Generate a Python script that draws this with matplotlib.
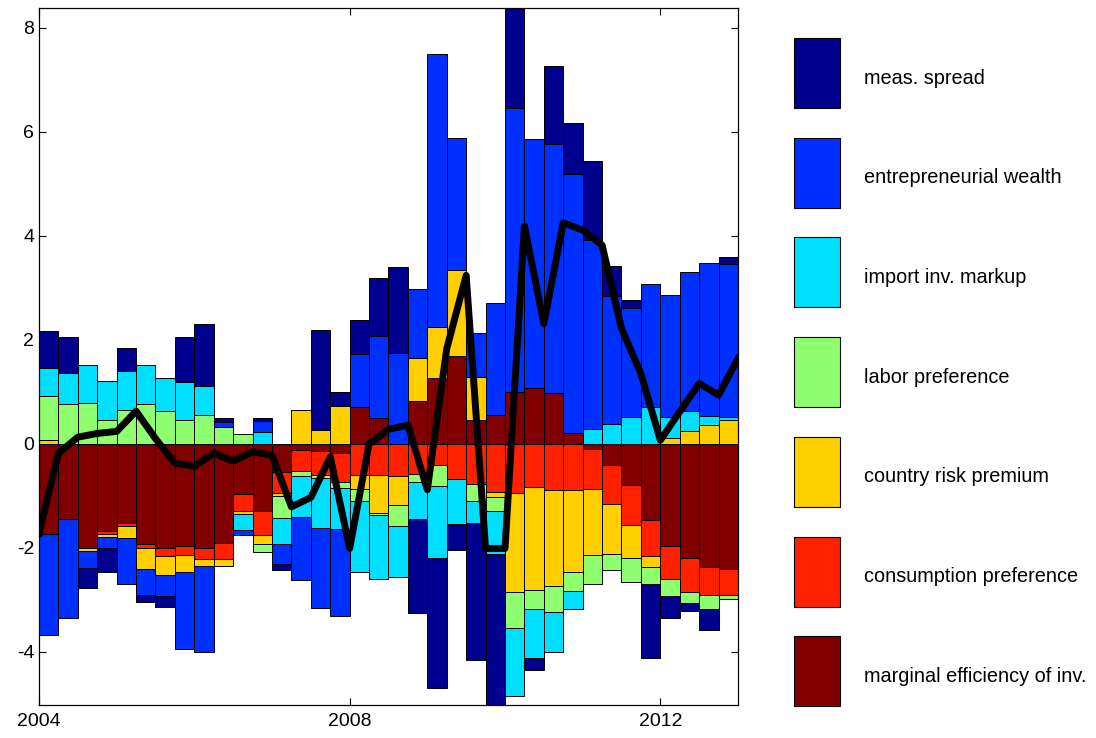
import numpy as np
import matplotlib.pyplot as plt
from matplotlib.patches import Rectangle

plt.rcParams['font.family'] = ['Liberation Sans', 'DejaVu Sans']
plt.rcParams['axes.unicode_minus'] = False

# quarterly shock decomposition, 2004Q1 .. 2012Q4
start_year = 2004
n_quarters = 36

mei = [-1.74, -1.44, -2.00, -1.68, -1.52, -1.92, -2.01, -1.96, -2.01, -1.90,
       -0.97, -1.29, -0.54, -0.11, -0.13, -0.17, 0.71, 0.50, 0.00, 0.82,
       1.27, 1.69, 0.46, 0.55, 1.00, 1.07, 0.97, 0.20, -0.09, -0.40,
       -0.79, -1.46, -1.97, -2.20, -2.37, -2.40]
cons_pref = [0.00, 0.00, 0.00, -0.05, -0.05, -0.08, -0.14, -0.18, -0.21, -0.32,
             -0.32, -0.46, -0.41, -0.41, -0.46, -0.56, -0.59, -0.59, -0.61, -0.57,
             -0.41, -0.67, -0.78, -0.92, -0.94, -0.83, -0.88, -0.88, -0.77, -0.75,
             -0.77, -0.69, -0.63, -0.65, -0.53, -0.50]
country_risk = [0.08, 0.00, -0.06, -0.06, -0.24, -0.41, -0.38, -0.33, -0.12, -0.13,
                -0.05, -0.18, -0.06, 0.66, 0.26, 0.72, -0.27, -0.73, -0.57, 0.83,
                0.97, 1.65, 0.83, -0.10, -1.91, -1.97, -1.86, -1.59, -1.27, -0.97,
                -0.63, -0.22, 0.12, 0.24, 0.37, 0.46]
labor_pref = [0.85, 0.77, 0.79, 0.46, 0.65, 0.76, 0.63, 0.45, 0.55, 0.32,
              0.19, -0.15, -0.42, -0.10, -0.06, -0.12, -0.24, -0.05, -0.40, -0.17,
              -0.40, 0.00, -0.32, -0.27, -0.69, -0.38, -0.50, -0.36, -0.57, -0.30,
              -0.46, -0.33, -0.33, -0.21, -0.27, -0.09]
import_markup = [0.52, 0.60, 0.72, 0.74, 0.76, 0.75, 0.64, 0.74, 0.57, 0.00,
                 -0.31, 0.23, -0.49, -0.78, -0.96, -0.78, -1.36, -1.23, -0.98, -0.71,
                 -1.39, -0.87, -0.42, -0.82, -1.31, -0.93, -0.77, -0.34, 0.28, 0.38,
                 0.52, 0.71, 0.39, 0.39, 0.17, 0.05]
ent_wealth = [-1.94, -1.90, -0.32, -0.22, -0.89, -0.50, -0.39, -1.48, -1.67, 0.10,
              -0.11, 0.21, -0.39, -1.22, -1.54, -1.68, 1.02, 1.57, 1.74, 1.32,
              5.25, 2.54, 0.84, 2.15, 5.45, 4.80, 4.79, 4.98, 3.64, 2.47,
              2.10, 2.36, 2.35, 2.68, 2.93, 2.95]
meas_spread = [0.72, 0.68, -0.40, -0.45, 0.44, -0.13, -0.21, 0.87, 1.18, 0.07,
               0.00, 0.05, -0.12, 0.00, 1.92, 0.27, 0.65, 1.11, 1.66, -1.81,
               -2.50, -0.50, -2.63, -3.00, 2.10, -0.23, 1.50, 0.99, 1.51, 0.57,
               0.14, -1.41, -0.41, -0.16, -0.40, 0.13]

# observed series (black line)
observed = [-1.72, -0.18, 0.13, 0.20, 0.24, 0.63, 0.10, -0.37, -0.43, -0.18,
            -0.33, -0.15, -0.22, -1.21, -1.03, -0.25, -2.01, 0.00, 0.28, 0.36,
            -0.88, 1.83, 3.24, -2.01, -2.01, 4.19, 2.31, 4.25, 4.11, 3.82,
            2.22, 1.35, 0.07, 0.62, 1.16, 0.94, 1.64]

series = [mei, cons_pref, country_risk, labor_pref, import_markup, ent_wealth, meas_spread]
labels = ['marginal efficiency of inv.', 'consumption preference', 'country risk premium',
          'labor preference', 'import inv. markup', 'entrepreneurial wealth', 'meas. spread']
colors = [(0.5, 0, 0), (1, 0.125, 0), (1, 0.8125, 0), (0.5625, 1, 0.4375),
          (0, 0.875, 1), (0, 0.1875, 1), (0, 0, 0.5625)]

x = start_year + 0.25 * np.arange(n_quarters)
x_line = start_year + 0.25 * np.arange(len(observed))

fig = plt.figure(figsize=(10.96, 7.38), dpi=100)
ax = fig.add_axes([39 / 1096, 1 - 705 / 738, 699 / 1096, 697 / 738])

pos_base = np.zeros(n_quarters)
neg_base = np.zeros(n_quarters)
for vals, col in zip(series, colors):
    v = np.array(vals, dtype=float)
    bottom = np.where(v >= 0, pos_base, neg_base)
    h = np.where(v == 0, np.nan, v)
    ax.bar(x, h, width=0.25, bottom=bottom, align='edge', color=col,
           edgecolor='black', linewidth=0.7, zorder=2)
    pos_base += np.clip(v, 0, None)
    neg_base += np.clip(v, None, 0)

ax.plot(x_line, observed, color='black', linewidth=5, solid_joinstyle='round', zorder=3)

ax.set_xlim(2004, 2013)
ax.set_ylim(-5.02, 8.38)
ax.set_xticks([2004, 2008, 2012])
ax.set_yticks([-4, -2, 0, 2, 4, 6, 8])
ax.tick_params(direction='in', length=5, width=0.8, top=True, right=True, labelsize=14)
ax.tick_params(axis='x', pad=6)
for s in ax.spines.values():
    s.set_linewidth(0.9)
    s.set_zorder(4)

# legend drawn on an overlay in pixel coordinates
lax = fig.add_axes([0, 0, 1, 1])
lax.set_xlim(0, 1096)
lax.set_ylim(738, 0)
lax.axis('off')
for k, (lab, col) in enumerate(zip(labels[::-1], colors[::-1])):
    top = 38 + 99.7 * k
    lax.add_patch(Rectangle((794, top), 46, 70, facecolor=col, edgecolor='black', linewidth=0.8))
    lax.text(864, top + 40, lab, fontsize=14.3, va='center', ha='left')

fig.savefig('out.png', dpi=100)
